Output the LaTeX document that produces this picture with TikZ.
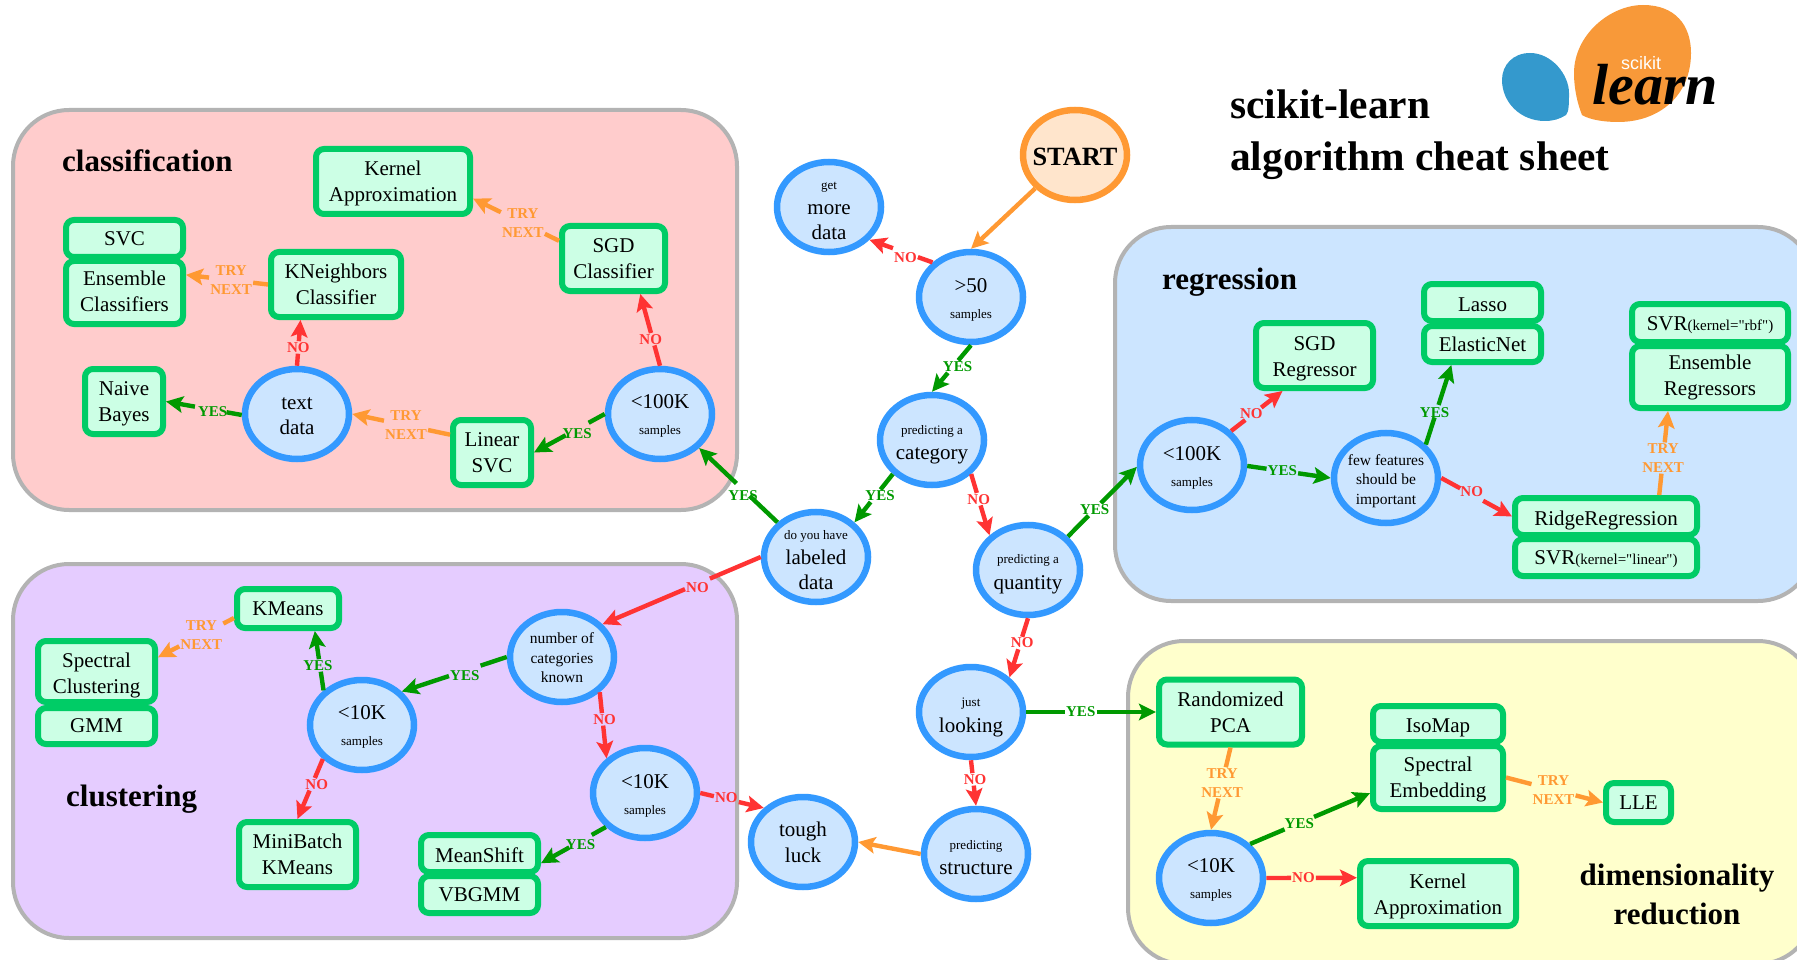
\documentclass[tikz,border=0pt]{standalone}
\usepackage{fontspec}
\setmainfont{Liberation Serif}
\newfontfamily\plainserif{Liberation Serif}
\newfontfamily\logosans{Liberation Sans}
\usetikzlibrary{shapes.geometric,arrows.meta}
\definecolor{cblue}{HTML}{3399FF}\definecolor{fblue}{HTML}{CCE5FF}
\definecolor{cbox}{HTML}{00CC66}\definecolor{fbox}{HTML}{CCFFE5}
\definecolor{corange}{HTML}{FF9933}\definecolor{forange}{HTML}{FFE5CC}
\definecolor{cred}{HTML}{FF3333}\definecolor{cgreen}{HTML}{009900}
\definecolor{cgray}{HTML}{B3B3B3}\definecolor{fpink}{HTML}{FFCCCC}
\definecolor{fpurple}{HTML}{E5CCFF}\definecolor{fyellow}{HTML}{FFFFCC}
\definecolor{logoorange}{HTML}{F89939}\definecolor{logoblue}{HTML}{3499CD}
\newcommand\bt{\fontsize{21}{26}\selectfont}
\newcommand\st{\fontsize{13}{16}\selectfont}
\newcommand\mt{\fontsize{15.5}{19.5}\selectfont}
\newcommand\kt{\fontsize{15}{19}\selectfont}
\newcommand\dn[1]{\rule{0pt}{#1pt}}
\newcommand\kw[1]{{\plainserif\fontsize{15}{16}\selectfont #1}}
% nudge: text moved right #1 and down #2 without changing the label's box
\newcommand\nudge[3]{\raisebox{-#2}[\height][\depth]{\makebox[0pt][l]{\kern#1 #3}\phantom{#3}}}
\newcommand\lbledge[6]{%
  \path (#2) -- node[lbl,#1,pos=#4] (#5) {#6} (#3);
  \draw[flow,#1] (#2) -- (#5);
  \draw[flow,#1,-{Stealth[length=17pt,width=16.5pt,inset=3.5pt]}] (#5) -- (#3);}
\tikzset{
  region/.style={draw=cgray,line width=4pt,rounded corners=56pt},
  dec/.style={ellipse,draw=cblue,fill=fblue,line width=6.5pt,minimum width=104pt,minimum height=90pt,inner sep=-8pt,align=center,font=\bt},
  startnode/.style={dec,draw=corange,fill=forange},
  algo/.style={rectangle,draw=cbox,fill=fbox,line width=6pt,rounded corners=8pt,align=center,font=\bt,inner sep=0pt},
  flow/.style={line width=4.4pt},
  lbl/.style={font=\kt\bfseries,align=center,inner sep=1pt},
  yes/.style={color=cgreen},
  no/.style={color=cred},
  try/.style={color=corange},
  heading/.style={font=\fontsize{31}{38}\selectfont\bfseries,inner sep=0pt,anchor=base west,align=center},
  maintitle/.style={font=\fontsize{41.4}{57}\selectfont\bfseries,anchor=base west,align=left,inner sep=0pt},
}
\begin{document}
\begin{tikzpicture}[x=1pt,y=-1pt]
\useasboundingbox (0,0) rectangle (1797,960);
\clip (0,0) rectangle (1797,960);
% regions
\draw[region,fill=fpink] (13,110) rectangle (737,510);
\draw[region,fill=fpurple] (13,564) rectangle (737,938);
\draw[region,fill=fblue] (1115,227) rectangle (1814,601);
\draw[region,fill=fyellow] (1128,641) rectangle (1814,964);
% logo
\fill[logoorange] (1643,5) .. controls (1675,5) and (1691,25) .. (1691,53) .. controls (1691,95) and (1660,122) .. (1618,122) .. controls (1605,122) and (1590,120) .. (1582,115) .. controls (1578,105) and (1574,90) .. (1574,73) .. controls (1574,35) and (1610,5) .. (1643,5) -- cycle;
\fill[logoblue] (1530,53) .. controls (1552,53) and (1569,75) .. (1569,93) .. controls (1569,103) and (1569,112) .. (1566,115) .. controls (1560,119) and (1553,121) .. (1545,121) .. controls (1520,121) and (1502,102) .. (1502,80) .. controls (1502,65) and (1513,53) .. (1530,53) -- cycle;
\node[text=white,font=\logosans\fontsize{18}{20}\selectfont,anchor=base,inner sep=0pt] (logoscikit) at (1641,70) {scikit};
\node[font=\fontsize{58}{60}\selectfont\bfseries\itshape,anchor=base,inner sep=0pt] (logolearn) at (1655,105) {learn};
% titles
\node[maintitle] (t1) at (1230,119) {scikit-learn};
\node[maintitle] (t2) at (1230,171) {algorithm cheat sheet};
\node[heading] (hclass) at (62,172) {classification};
\node[heading] (hclust) at (66,806) {clustering};
\node[heading] (hreg) at (1162,289) {regression};
\node[heading,anchor=base] (hdim1) at (1677,885) {dimensionality};
\node[heading,anchor=base] (hdim2) at (1677,924) {reduction};
% decisions
\node[startnode] (start) at (1075,155) {\dn{21}\fontsize{26.3}{30}\selectfont\bfseries START};
\node[dec] (more) at (829,207) {\dn{15}\st get\\[-1pt] more\\[-1pt] data};
\node[dec] (a50) at (971,297) {\dn{19}>50\\ \st samples};
\node[dec] (cat) at (932,440) {\dn{18.5}\st predicting a\\[-1pt] category};
\node[dec] (lab) at (816,557) {\dn{15}\st do you have\\[-1pt] labeled\\[-1pt] data};
\node[dec] (qty) at (1028,570) {\dn{17.6}\st predicting a\\ quantity};
\node[dec] (just) at (971,712) {\dn{20.5}\st just\\ looking};
\node[dec] (struct) at (976,854) {\dn{17}\st predicting\\[-1pt] structure};
\node[dec] (tough) at (803,842) {tough\\ luck};
\node[dec,font=\mt] (ncat) at (562,657) {\dn{13}number of\\ categories\\ known};
\node[dec] (tenB) at (645,793) {\dn{19}<10K\\ \st samples};
\node[dec] (tenA) at (362,725) {\dn{17}<10K\\ \st samples};
\node[dec] (hkC) at (660,414) {\dn{17}<100K\\ \st samples};
\node[dec] (text) at (297,414) {\dn{17}text\\[-1pt] data};
\node[dec] (hkR) at (1192,465) {\dn{19}<100K\\ \st samples};
\node[dec,font=\mt] (few) at (1386,478) {\dn{16.4}few features\\ should be\\ important};
\node[dec] (tenD) at (1211,878) {\dn{17}<10K\\ \st samples};
% algorithms
\node[algo,minimum width=154pt,minimum height=65pt] (kaC) at (393,181.5) {\dn{17.8}Kernel\\ Approximation};
\node[algo,minimum width=117pt,minimum height=37pt] (svc) at (124.5,238.5) {SVC};
\node[algo,minimum width=117pt,minimum height=63pt] (ens) at (124.5,292.5) {Ensemble\\ Classifiers\rule[-3pt]{0pt}{3pt}};
\node[algo,minimum width=130pt,minimum height=65pt] (kn) at (336,284.5) {KNeighbors\\ Classifier};
\node[algo,minimum width=78pt,minimum height=65pt] (nb) at (124,401.5) {\dn{17.8}Naive\\ Bayes};
\node[algo,minimum width=78pt,minimum height=65pt] (lsvc) at (492,452.5) {Linear\\ SVC};
\node[algo,minimum width=103pt,minimum height=65pt] (sgdC) at (613.5,258.5) {SGD\\ Classifier};
\node[algo,minimum width=102pt,minimum height=39pt] (km) at (288,608.5) {KMeans};
\node[algo,minimum width=117pt,minimum height=61pt] (spec) at (96.5,671.5) {\dn{21.8}Spectral\\ Clustering};
\node[algo,minimum width=117pt,minimum height=36pt] (gmm) at (96.5,726) {GMM};
\node[algo,minimum width=117pt,minimum height=65pt] (mb) at (297.5,854.5) {MiniBatch\\ KMeans};
\node[algo,minimum width=117pt,minimum height=37pt] (ms) at (479.5,853.5) {\dn{17.3}MeanShift};
\node[algo,minimum width=117pt,minimum height=37pt] (vb) at (479.5,894.5) {VBGMM};
\node[algo,minimum width=117pt,minimum height=65pt] (sgdR) at (1314.5,355.5) {\dn{19.8}SGD\\ Regressor};
\node[algo,minimum width=117pt,minimum height=37pt] (lasso) at (1482.5,302.5) {\dn{17.3}Lasso};
\node[algo,minimum width=117pt,minimum height=36pt] (en) at (1482.5,344) {ElasticNet};
\node[algo,minimum width=156pt,minimum height=38pt] (rbf) at (1710,323) {\dn{19}SVR\kw{(kernel="rbf")}};
\node[algo,minimum width=156pt,minimum height=62pt] (ensR) at (1710,377) {Ensemble\\ Regressors};
\node[algo,minimum width=182pt,minimum height=37pt] (ridge) at (1606,516.5) {\dn{21.8}RidgeRegression};
\node[algo,minimum width=182pt,minimum height=37pt] (lin) at (1606,557.5) {\dn{18}SVR\kw{(kernel="linear")}};
\node[algo,minimum width=143pt,minimum height=65pt] (rpca) at (1230.5,712) {\dn{16}Randomized\\ PCA};
\node[algo,minimum width=130pt,minimum height=36pt] (iso) at (1438,724) {\dn{20.8}IsoMap};
\node[algo,minimum width=130pt,minimum height=63pt] (se) at (1438,777.5) {\dn{18}Spectral\\ Embedding};
\node[algo,minimum width=65pt,minimum height=39pt] (lle) at (1638.5,802.5) {LLE};
\node[algo,minimum width=156pt,minimum height=65pt] (kaD) at (1438,893.5) {\dn{19.8}Kernel\\ Approximation};
% connectors
\draw[flow,corange,-{Stealth[length=17pt,width=16.5pt,inset=3.5pt]}] (start.220) -- (a50.90);
\draw[flow,corange,-{Stealth[length=17pt,width=16.5pt,inset=3.5pt]}] (struct.180) -- (tough.0);
\lbledge{no}{a50.138}{more.321}{.43}{l2}{\nudge{0pt}{4.5pt}{NO}}
\lbledge{yes}{a50.270}{cat.90}{.46}{l3}{\nudge{4.5pt}{0pt}{YES}}
\lbledge{yes}{cat.221.6}{lab.42.6}{.45}{l4}{\nudge{4.5pt}{0pt}{YES}}
\lbledge{no}{cat.319}{qty.138}{.41}{l5}{NO}
\lbledge{yes}{qty.40}{hkR.182}{.39}{l6}{YES}
\lbledge{yes}{lab.138}{hkC.319}{.44}{l7}{\nudge{0pt}{5.5pt}{YES}}
\lbledge{no}{lab.180}{ncat.39}{.4}{l8}{\nudge{0pt}{3.5pt}{NO}}
\lbledge{no}{qty.270}{just.42.5}{.42}{l9}{\nudge{2pt}{0pt}{NO}}
\lbledge{yes}{just.0}{rpca.180}{.42}{l10}{YES}
\lbledge{no}{just.270}{struct.90}{.42}{l11}{\nudge{2pt}{0pt}{NO}}
\lbledge{no}{hkC.90}{sgdC.307}{.37}{l13}{\nudge{-2pt}{0pt}{NO}}
\lbledge{try}{sgdC.162}{kaC.348}{.42}{l14}{TRY\\ NEXT}
\lbledge{yes}{hkC.180}{lsvc.0}{.39}{l15}{\nudge{0pt}{4.5pt}{YES}}
\lbledge{try}{lsvc.157}{text.0}{.45}{l16}{TRY\\ NEXT}
\lbledge{yes}{text.181}{nb.0}{.41}{l17}{\nudge{2pt}{2pt}{YES}}
\lbledge{no}{text.90}{kn.225.9}{.4}{l18}{NO}
\lbledge{try}{kn.180}{ens.16}{.45}{l19}{TRY\\ NEXT}
\lbledge{yes}{ncat.180}{tenA.40}{.4}{l20}{\nudge{0pt}{4.5pt}{YES}}
\lbledge{no}{ncat.317.5}{tenB.138}{.41}{l21}{\nudge{2pt}{0pt}{NO}}
\lbledge{yes}{tenA.138}{km.320.6}{.42}{l22}{\nudge{-2pt}{0pt}{YES}}
\lbledge{try}{km.190.5}{spec.13.7}{.43}{l23}{TRY\\ NEXT}
\lbledge{no}{tenA.221.6}{mb.90}{.42}{l24}{\nudge{4.5pt}{0pt}{NO}}
\lbledge{yes}{tenB.221}{ms.351}{.39}{l25}{\nudge{0pt}{3.5pt}{YES}}
\lbledge{no}{tenB.0}{tough.139}{.41}{l26}{\nudge{0pt}{-2pt}{NO}}
\lbledge{no}{hkR.41.6}{sgdR.228}{.43}{l27}{\nudge{-2pt}{0pt}{NO}}
\lbledge{yes}{hkR.359}{few.180}{.42}{l28}{YES}
\lbledge{yes}{few.40}{en.214.6}{.42}{l29}{\nudge{-2pt}{1pt}{YES}}
\lbledge{no}{few.0}{ridge.180}{.43}{l30}{\nudge{0pt}{-3pt}{NO}}
\lbledge{try}{ridge.22}{ensR.219}{.44}{l31}{TRY\\ NEXT}
\lbledge{try}{rpca.270}{tenD.90}{.43}{l32}{TRY\\ NEXT}
\lbledge{yes}{tenD.41.7}{se.193.4}{.41}{l33}{YES}
\lbledge{no}{tenD.0}{kaD.169.2}{.41}{l34}{NO}
\lbledge{try}{se.0}{lle.180}{.49}{l35}{TRY\\ NEXT}
\end{tikzpicture}
\end{document}
